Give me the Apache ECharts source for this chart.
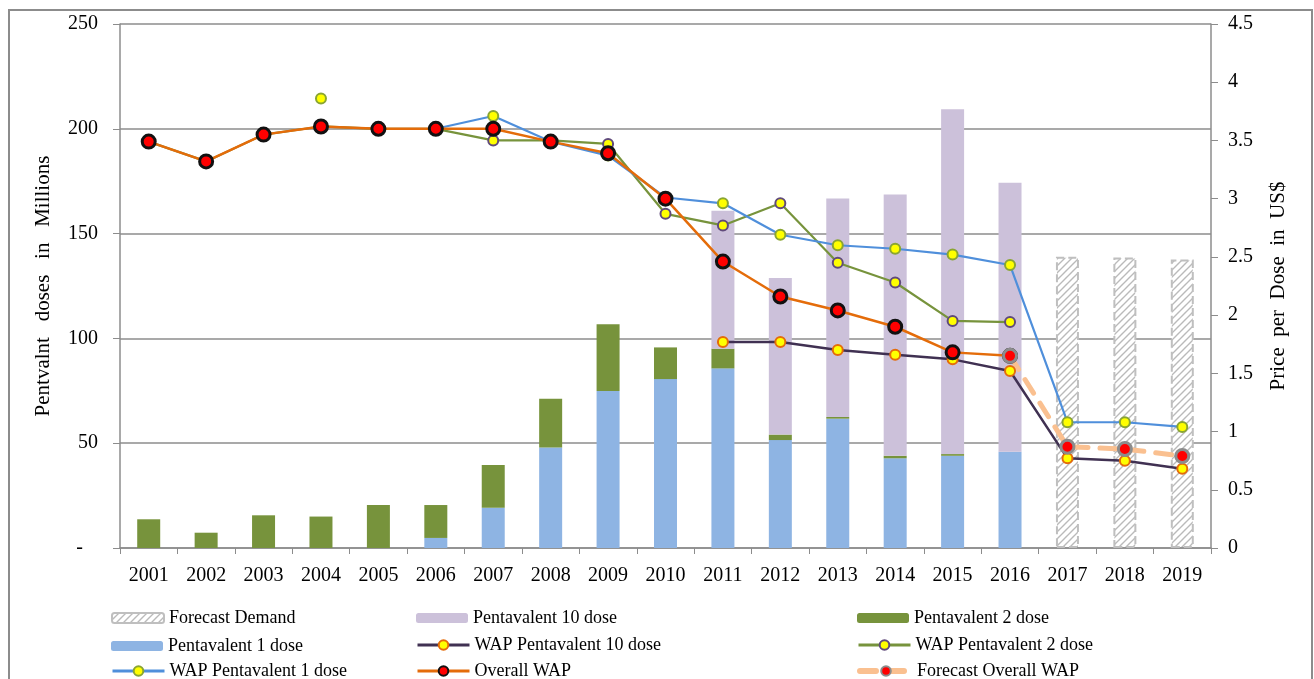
<!DOCTYPE html>
<html><head><meta charset="utf-8">
<script src="https://cdn.jsdelivr.net/npm/echarts@6/dist/echarts.min.js"></script>
<style>html,body{margin:0;padding:0;background:#fff}#c{width:1314px;height:679px}</style>
</head><body><div id="c"></div>
<script>
const years = ['2001','2002','2003','2004','2005','2006','2007','2008','2009','2010','2011','2012','2013','2014','2015','2016','2017','2018','2019'];
const leftTicks = [0,50,100,150,200,250];
const rightTicks = [0,0.5,1,1.5,2,2.5,3,3.5,4,4.5];
const pent1 = [null,null,null,null,null,4.8,19.2,47.9,74.9,80.6,85.7,51.5,61.7,42.8,44.0,45.9,null,null,null];
const pent2 = [13.7,7.3,15.6,15.0,20.5,15.7,20.4,23.3,31.8,15.1,9.4,2.6,0.8,1.2,0.8,0,null,null,null];
const pent10 = [null,null,null,null,null,null,null,null,null,null,65.8,74.7,104.2,124.7,164.5,128.4,null,null,null];
const forecastDemand = [null,null,null,null,null,null,null,null,null,null,null,null,null,null,null,null,139.0,138.6,137.7];
const wap10 = [null,null,null,null,null,null,null,null,null,null,1.77,1.77,1.70,1.66,1.62,1.52,0.77,0.75,0.68];
const wap2 = [3.49,3.32,3.55,3.62,3.60,3.60,3.50,3.50,3.47,2.87,2.77,2.96,2.45,2.28,1.95,1.94,null,null,null];
const wap1 = [null,null,null,3.86,null,3.60,3.71,3.49,3.37,3.01,2.96,2.69,2.60,2.57,2.52,2.43,1.08,1.08,1.04];
const overallWap = [3.49,3.32,3.55,3.62,3.60,3.60,3.60,3.49,3.39,3.00,2.46,2.16,2.04,1.90,1.68,1.65,null,null,null];
const forecastWap = [null,null,null,null,null,null,null,null,null,null,null,null,null,null,null,1.65,0.87,0.85,0.79];

// hatch pattern
const pc = document.createElement('canvas');
pc.width = 7; pc.height = 7;
const g = pc.getContext('2d');
g.fillStyle = '#ffffff'; g.fillRect(0,0,7,7);
g.strokeStyle = '#bababa'; g.lineWidth = 1.4;
g.beginPath();
g.moveTo(-1,8); g.lineTo(8,-1);
g.moveTo(-1,1); g.lineTo(1,-1);
g.moveTo(6,8); g.lineTo(8,6);
g.stroke();

const FONT = 'Liberation Serif';
const chart = echarts.init(document.getElementById('c'));
const barW = 23;
const lineSeries = (name, data, color, lw, fill, border, size, extra) => Object.assign({
  name, type: 'line', yAxisIndex: 1, data,
  symbol: 'circle', symbolSize: size, showSymbol: true,
  lineStyle: {color, width: lw},
  itemStyle: {color: fill, borderColor: border, borderWidth: 2},
  emphasis: {disabled: true}, animation: false
}, extra || {});

const legendCols = [106, 411, 852];
const legendRows = [603, 631, 657];
const legendItems = [
  ['Forecast Demand','Pentavalent 10 dose','Pentavalent 2 dose'],
  ['Pentavalent 1 dose','WAP Pentavalent 10 dose','WAP Pentavalent 2 dose'],
  ['WAP Pentavalent 1 dose','Overall WAP','Forecast Overall WAP']
];
const barNames = ['Forecast Demand','Pentavalent 10 dose','Pentavalent 2 dose','Pentavalent 1 dose'];
const legends = [];
legendItems.forEach((row, r) => row.forEach((name, c) => {
  const isBar = barNames.indexOf(name) >= 0;
  legends.push({
    left: legendCols[c], top: legendRows[r] + (isBar ? 0 : -1), itemWidth: 52, itemHeight: isBar ? 10 : 12, itemGap: 0,
    selectedMode: false,
    lineStyle: {width: name === 'Forecast Overall WAP' ? 6 : 3},
    textStyle: {fontFamily: FONT, fontSize: 18, color: '#000', lineHeight: 20},
    data: [name]
  });
}));

chart.setOption({
  animation: false,
  textStyle: {fontFamily: FONT},
  graphic: [{type: 'rect', shape: {x: 9, y: 10, width: 1303, height: 690}, style: {fill: 'none', stroke: '#8c8c8c', lineWidth: 2}, z: -10}],
  grid: {left: 120, right: 103, top: 24, bottom: 131},
  legend: legends,
  xAxis: {
    type: 'category', data: years, boundaryGap: true,
    axisLine: {lineStyle: {color: '#8c8c8c', width: 1.5}},
    axisTick: {show: true, length: 6, lineStyle: {color: '#8c8c8c'}},
    axisLabel: {fontFamily: FONT, fontSize: 20, color: '#000', margin: 18}
  },
  yAxis: [
    {type: 'value', min: leftTicks[0], max: leftTicks[leftTicks.length-1], interval: 50,
     name: 'Pentvalnt   doses   in   Millions', nameLocation: 'middle', nameGap: 66,
     nameTextStyle: {fontFamily: FONT, fontSize: 21, color: '#000'},
     axisLine: {show: true, lineStyle: {color: '#8c8c8c', width: 1.5}},
     axisTick: {show: true, length: 7, lineStyle: {color: '#8c8c8c'}},
     splitLine: {lineStyle: {color: '#8c8c8c', width: 1.5}},
     axisLabel: {fontFamily: FONT, fontSize: 20, color: '#000', margin: 22,
       formatter: v => v === 0 ? '-   ' : String(v)}},
    {type: 'value', min: rightTicks[0], max: rightTicks[rightTicks.length-1], interval: 0.5,
     name: 'Price  per  Dose  in  US$', nameLocation: 'middle', nameGap: 57,
     nameTextStyle: {fontFamily: FONT, fontSize: 21, color: '#000'},
     axisLine: {show: true, lineStyle: {color: '#8c8c8c', width: 1.5}},
     axisTick: {show: true, length: 7, lineStyle: {color: '#8c8c8c'}},
     splitLine: {show: false},
     axisLabel: {fontFamily: FONT, fontSize: 20, color: '#000', margin: 17}}
  ],
  series: [
    {name: 'Pentavalent 1 dose', type: 'bar', stack: 's', barWidth: barW, data: pent1,
     itemStyle: {color: '#8EB4E3'}},
    {name: 'Pentavalent 2 dose', type: 'bar', stack: 's', barWidth: barW, data: pent2,
     itemStyle: {color: '#77933C'}},
    {name: 'Pentavalent 10 dose', type: 'bar', stack: 's', barWidth: barW, data: pent10,
     itemStyle: {color: '#CCC1DA'}},
    {name: 'Forecast Demand', type: 'bar', stack: 's', barWidth: barW, data: forecastDemand,
     itemStyle: {color: {image: pc, repeat: 'repeat'}, borderColor: '#bfbfbf', borderWidth: 2, borderType: [8, 4]}},
    lineSeries('WAP Pentavalent 10 dose', wap10, '#403152', 2.5, '#FFFF00', '#E46C0A', 10),
    lineSeries('WAP Pentavalent 2 dose', wap2, '#77933C', 2.2, '#FFFF00', '#604A7B', 10),
    lineSeries('WAP Pentavalent 1 dose', wap1, '#4F8FDB', 2.2, '#FFFF00', '#8AA532', 10),
    lineSeries('Overall WAP', overallWap, '#E46C0A', 2.5, '#FF0000', '#111111', 13, {itemStyle: {color: '#FF0000', borderColor: '#111', borderWidth: 3}}),
    lineSeries('Forecast Overall WAP', forecastWap, '#FAC090', 5, '#FF0000', '#808080', 13,
      {lineStyle: {color: '#FAC090', width: 5, type: [16, 12], cap: 'round'}, itemStyle: {color: '#FF0000', borderColor: '#8c8c8c', borderWidth: 3}})
  ]
});
</script></body></html>
